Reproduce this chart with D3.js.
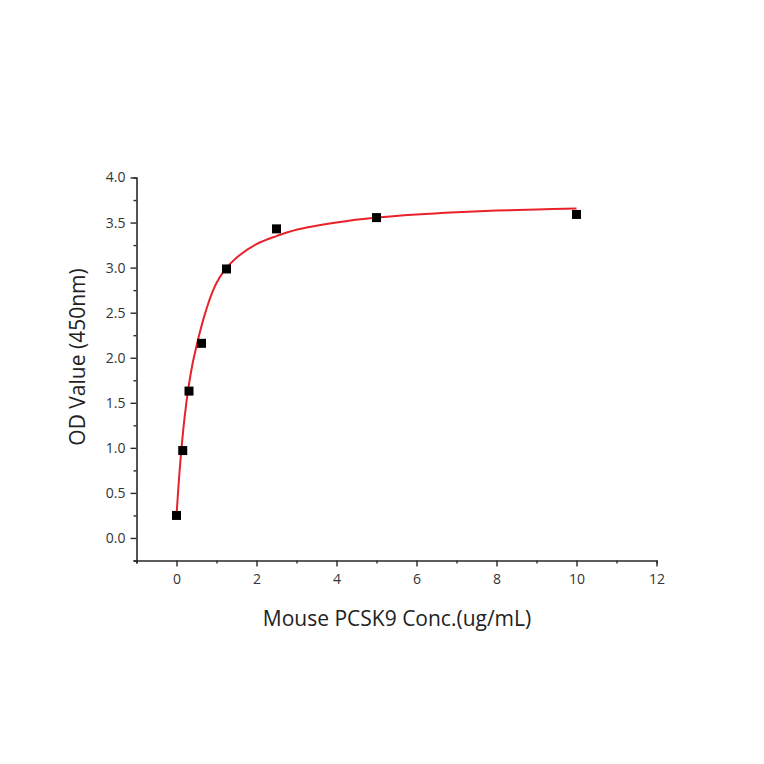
<!DOCTYPE html>
<html>
<head>
<meta charset="utf-8">
<script src="https://cdn.jsdelivr.net/npm/d3@7"></script>
<style>
  body { margin: 0; background: #fff; }
  svg text { font-family: "Open Sans", "Noto Sans", sans-serif; }
</style>
</head>
<body>
<div id="chart"></div>
<script>
// Measured points (concentration, OD)
const concentrations = [0, 0.156, 0.3125, 0.625, 1.25, 2.5, 5, 10];
const odValues = [0.25, 0.97, 1.63, 2.16, 2.985, 3.43, 3.555, 3.59];

// Fitted curve
const fitX = [0, 0.06, 0.12, 0.2, 0.3, 0.4, 0.5, 0.6, 0.7, 0.8, 0.9, 1.0, 1.2, 1.5, 2.0, 2.5, 3, 4, 5, 6, 7, 8, 9, 10];
const fitY = [0.25, 0.64, 0.97, 1.33, 1.67, 1.93, 2.13, 2.31, 2.47, 2.61, 2.73, 2.83, 2.97, 3.11, 3.26, 3.35, 3.42, 3.50, 3.555, 3.59, 3.615, 3.633, 3.646, 3.655];

const xMajorTicks = [0, 2, 4, 6, 8, 10, 12];
const xMinorTicks = [-1, 1, 3, 5, 7, 9, 11];
const yMajorTicks = [0, 0.5, 1.0, 1.5, 2.0, 2.5, 3.0, 3.5, 4.0];
const yMinorTicks = [-0.25, 0.25, 0.75, 1.25, 1.75, 2.25, 2.75, 3.25, 3.75];

const W = 764, H = 764;
const svg = d3.select('#chart').append('svg')
    .attr('width', W)
    .attr('height', H);

const x = d3.scaleLinear().domain([-1, 12]).range([136.5, 656.5]);
const y = d3.scaleLinear().domain([-0.25, 4.0]).range([560.5, 177.5]);

const axisColor = '#2a2a2a';

// y axis
const gy = svg.append('g').attr('transform', `translate(${x(-1)},0)`);
gy.call(d3.axisLeft(y).tickValues(yMinorTicks).tickSize(3).tickFormat(''));
gy.append('g').call(d3.axisLeft(y).tickValues(yMajorTicks).tickSize(6).tickPadding(5)
    .tickFormat(d3.format('.1f')));
gy.selectAll('path.domain').attr('stroke', axisColor).attr('stroke-width', 1.6);
gy.selectAll('line').attr('stroke', axisColor).attr('stroke-width', 1.4);
gy.selectAll('text').attr('fill', '#333').style('font-size', '14px');

// x axis
const gx = svg.append('g').attr('transform', `translate(0,${y(-0.25)})`);
gx.call(d3.axisBottom(x).tickValues(xMinorTicks).tickSize(3).tickFormat(''));
gx.append('g').call(d3.axisBottom(x).tickValues(xMajorTicks).tickSize(6).tickPadding(8)
    .tickFormat(d3.format('d')));
gx.selectAll('path.domain').attr('stroke', axisColor).attr('stroke-width', 1.6);
gx.selectAll('line').attr('stroke', axisColor).attr('stroke-width', 1.4);
gx.selectAll('text').attr('fill', '#333').style('font-size', '14px');
gx.selectAll('g g path.domain').remove();
gy.selectAll('g g path.domain').remove();

// fitted curve
const fitData = fitX.map((v, i) => ({ x: v, y: fitY[i] }));
svg.append('path')
    .datum(fitData)
    .attr('fill', 'none')
    .attr('stroke', '#e8212b')
    .attr('stroke-width', 2)
    .attr('d', d3.line().x(d => x(d.x)).y(d => y(d.y)).curve(d3.curveCatmullRom.alpha(0.5)));

// points
const pts = concentrations.map((c, i) => ({ x: c, y: odValues[i] }));
const s = 9;
svg.selectAll('.pt')
    .data(pts)
    .enter()
    .append('rect')
    .attr('class', 'pt')
    .attr('x', d => x(d.x) - s / 2)
    .attr('y', d => y(d.y) - s / 2)
    .attr('width', s)
    .attr('height', s)
    .attr('fill', '#000');

// axis labels
svg.append('text')
    .attr('x', 397)
    .attr('y', 626)
    .attr('text-anchor', 'middle')
    .attr('fill', '#222')
    .style('font-size', '21px')
    .text('Mouse PCSK9 Conc.(ug/mL)');

svg.append('text')
    .attr('transform', 'translate(85,357) rotate(-90)')
    .attr('text-anchor', 'middle')
    .attr('fill', '#222')
    .style('font-size', '21px')
    .text('OD Value (450nm)');
</script>
</body>
</html>
